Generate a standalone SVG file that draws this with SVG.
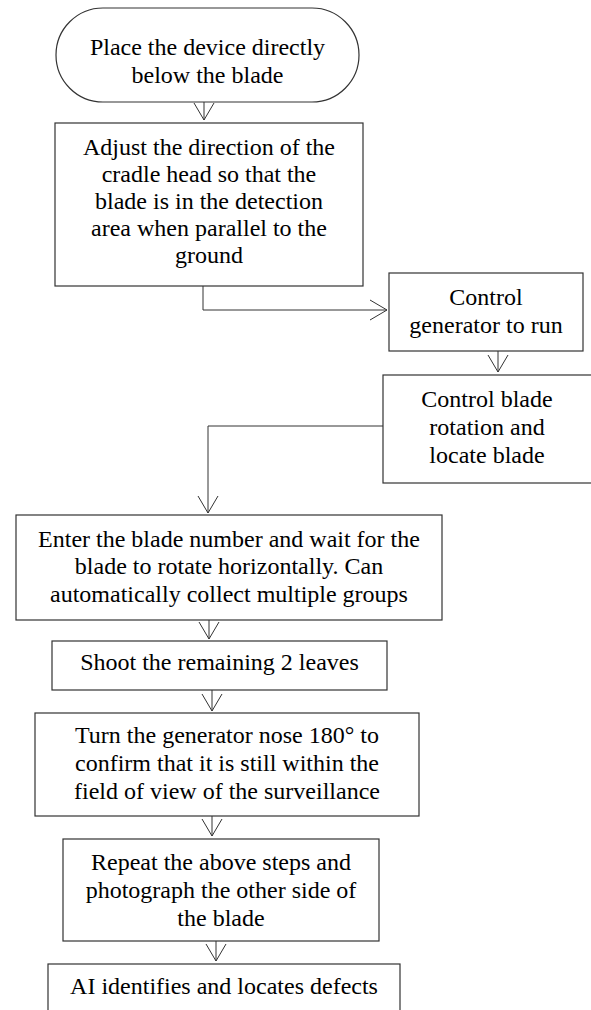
<svg xmlns="http://www.w3.org/2000/svg" width="591" height="1010" viewBox="0 0 591 1010">
<style>
.n{fill:#fff;stroke:#333;stroke-width:1.2}
.t{font-size:24px;fill:#000;text-anchor:middle}
.c{fill:none;stroke:#333;stroke-width:1}
</style>
<defs>
<marker id="a" markerUnits="userSpaceOnUse" viewBox="0 0 18 22" refX="17" refY="11" markerWidth="18" markerHeight="22" orient="auto">
<path d="M0,1 L17,11 L0,21" fill="none" stroke="#333" stroke-width="1"/>
</marker>
</defs>
<rect x="0" y="0" width="591" height="1010" fill="#fff"/>
<g id="connectors">
<path class="c" d="M204,102 V120" marker-end="url(#a)"/>
<path class="c" d="M203,286 V310 H387" marker-end="url(#a)"/>
<path class="c" d="M498,351 V372" marker-end="url(#a)"/>
<path class="c" d="M383,426 H208 V513" marker-end="url(#a)"/>
<path class="c" d="M209,620 V639" marker-end="url(#a)"/>
<path class="c" d="M212,690 V711" marker-end="url(#a)"/>
<path class="c" d="M212,816 V836" marker-end="url(#a)"/>
<path class="c" d="M216,941 V961" marker-end="url(#a)"/>
</g>
<g font-family="Liberation Serif, Times New Roman, DejaVu Serif, serif">
<g id="n1">
<rect class="n" x="56" y="8" width="303" height="94" rx="47" ry="47"/>
<text class="t" x="207.5" y="55">Place the device directly</text>
<text class="t" x="207.5" y="83">below the blade</text>
</g>
<g id="n2">
<rect class="n" x="55" y="123" width="308" height="163"/>
<text class="t" x="209" y="155">Adjust the direction of the</text>
<text class="t" x="209" y="182">cradle head so that the</text>
<text class="t" x="209" y="209">blade is in the detection</text>
<text class="t" x="209" y="236">area when parallel to the</text>
<text class="t" x="209" y="263">ground</text>
</g>
<g id="n3">
<rect class="n" x="389" y="273" width="194" height="78"/>
<text class="t" x="486" y="305">Control</text>
<text class="t" x="486" y="333">generator to run</text>
</g>
<g id="n4">
<rect class="n" x="383" y="375" width="215" height="108"/>
<text class="t" x="487" y="407">Control blade</text>
<text class="t" x="487" y="435">rotation and</text>
<text class="t" x="487" y="463">locate blade</text>
</g>
<g id="n5">
<rect class="n" x="16" y="515" width="426" height="105"/>
<text class="t" x="229" y="547">Enter the blade number and wait for the</text>
<text class="t" x="229" y="574">blade to rotate horizontally. Can</text>
<text class="t" x="229" y="602">automatically collect multiple groups</text>
</g>
<g id="n6">
<rect class="n" x="52" y="641" width="335" height="49"/>
<text class="t" x="219.5" y="670">Shoot the remaining 2 leaves</text>
</g>
<g id="n7">
<rect class="n" x="35" y="713" width="384" height="103"/>
<text class="t" x="227" y="743">Turn the generator nose 180° to</text>
<text class="t" x="227" y="771">confirm that it is still within the</text>
<text class="t" x="227" y="799">field of view of the surveillance</text>
</g>
<g id="n8">
<rect class="n" x="63" y="839" width="316" height="102"/>
<text class="t" x="221" y="870">Repeat the above steps and</text>
<text class="t" x="221" y="898">photograph the other side of</text>
<text class="t" x="221" y="926">the blade</text>
</g>
<g id="n9">
<rect class="n" x="48" y="964" width="352" height="60"/>
<text class="t" x="224" y="994">AI identifies and locates defects</text>
</g>
</g>
</svg>
